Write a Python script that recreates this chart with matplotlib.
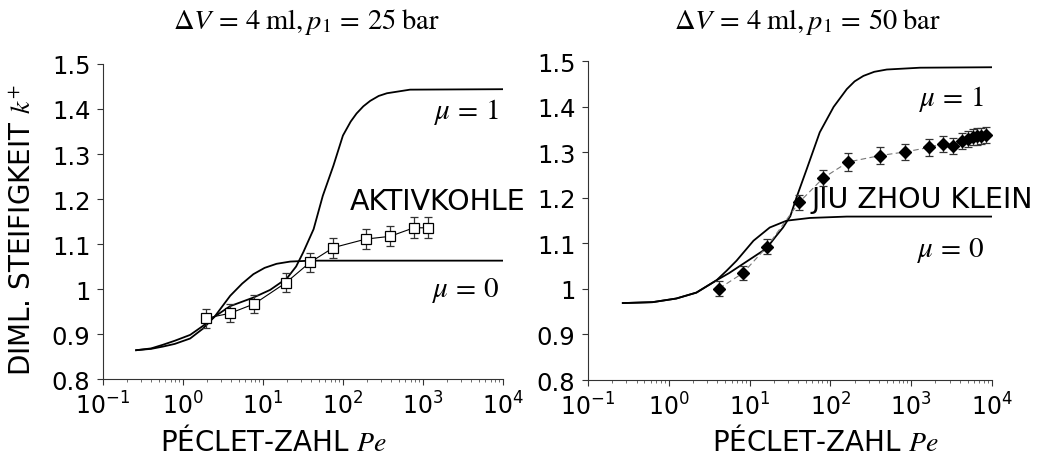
import matplotlib
matplotlib.use("Agg")
import matplotlib.pyplot as plt
from matplotlib.ticker import FixedLocator, LogLocator, NullFormatter

plt.rcParams['font.family'] = ['DejaVu Sans']
plt.rcParams['mathtext.fontset'] = 'dejavusans'

# Linkes Diagramm: 25 bar, Aktivkohle
pe_l_mu0 = [0.26, 0.40, 0.56, 0.79, 1.23, 1.78, 2.5, 3.9, 5.5, 7.6, 10.5, 14.8, 22, 40, 10000]
k_l_mu0 = [0.864, 0.867, 0.872, 0.878, 0.890, 0.912, 0.939, 0.985, 1.012, 1.033, 1.047, 1.056, 1.061, 1.063, 1.063]
pe_l_mu1 = [0.26, 0.40, 0.56, 0.79, 1.23, 1.78, 2.5, 3.9, 7.6, 12.3, 20, 26, 32, 43, 56, 76, 100, 125, 148, 180,
            219, 280, 355, 690, 10000]
k_l_mu1 = [0.864, 0.868, 0.876, 0.885, 0.898, 0.918, 0.939, 0.962, 0.981, 0.998, 1.024, 1.050, 1.082, 1.133,
           1.207, 1.274, 1.341, 1.372, 1.390, 1.406, 1.418, 1.429, 1.435, 1.443, 1.444]
pe_ak = [1.94, 3.87, 7.8, 19.4, 38.7, 76, 194, 387, 772, 1167]
k_ak = [0.935, 0.946, 0.967, 1.014, 1.059, 1.092, 1.111, 1.117, 1.136, 1.136]
err_ak = [0.021, 0.020, 0.020, 0.021, 0.021, 0.022, 0.022, 0.022, 0.023, 0.023]

# Rechtes Diagramm: 50 bar, Jiu Zhou klein
pe_r_mu0 = [0.27, 0.63, 1.24, 2.2, 3.9, 5.2, 6.9, 11.2, 17.8, 28.8, 56, 160, 10000]
k_r_mu0 = [0.969, 0.971, 0.979, 0.992, 1.019, 1.040, 1.062, 1.106, 1.135, 1.150, 1.156, 1.159, 1.159]
pe_r_mu1 = [0.27, 0.63, 1.24, 2.2, 3.9, 5.6, 8.3, 16.2, 21.5, 26, 32, 38, 51, 74, 110, 160, 200, 257, 350, 500,
            1290, 10000]
k_r_mu1 = [0.969, 0.971, 0.979, 0.992, 1.019, 1.035, 1.055, 1.089, 1.117, 1.135, 1.160, 1.200, 1.263, 1.344,
           1.400, 1.439, 1.456, 1.468, 1.477, 1.482, 1.486, 1.487]
pe_jz = [4.2, 8.3, 16.5, 41, 82, 167, 412, 841, 1683, 2506, 3335, 4235, 5070, 5770, 6500, 7350, 8470]
k_jz = [1.001, 1.035, 1.093, 1.190, 1.244, 1.279, 1.293, 1.301, 1.311, 1.319, 1.314, 1.325, 1.330, 1.334,
        1.335, 1.336, 1.338]
err_jz = [0.016, 0.016, 0.017, 0.017, 0.018, 0.019, 0.018, 0.018, 0.018, 0.018, 0.018, 0.018, 0.018, 0.018,
          0.018, 0.018, 0.018]

xticks = [0.1, 1, 10, 100, 1000, 10000]
xticklabels = ['$10^{-1}$', '$10^{0}$', '$10^{1}$', '$10^{2}$', '$10^{3}$', '$10^{4}$']
yticks = [0.8, 0.9, 1.0, 1.1, 1.2, 1.3, 1.4, 1.5]
yticklabels = ['0.8', '0.9', '1', '1.1', '1.2', '1.3', '1.4', '1.5']

fig = plt.figure(figsize=(10.41, 4.6), dpi=100)
ax1 = fig.add_axes([0.0989, 0.1739, 0.3842, 0.6848])
ax2 = fig.add_axes([0.5648, 0.1717, 0.3880, 0.6928])


def achsen(ax):
    ax.set_xscale('log')
    ax.set_xlim(0.1, 10000)
    ax.set_ylim(0.8, 1.5)
    ax.xaxis.set_major_locator(FixedLocator(xticks))
    ax.set_xticklabels(xticklabels)
    ax.xaxis.set_minor_locator(LogLocator(base=10, subs=range(2, 10), numticks=20))
    ax.xaxis.set_minor_formatter(NullFormatter())
    ax.set_yticks(yticks)
    ax.set_yticklabels(yticklabels)
    for s in ['top', 'right']:
        ax.spines[s].set_visible(False)
    for s in ['left', 'bottom']:
        ax.spines[s].set_linewidth(0.8)
        ax.spines[s].set_color('#333333')
    ax.tick_params(axis='y', which='major', labelsize=17.5, length=4, width=0.8, color='#333333', pad=5)
    ax.tick_params(axis='x', which='major', labelsize=17, length=4, width=0.8, color='#333333', pad=5)
    ax.tick_params(axis='x', which='minor', length=2, width=0.6, color='#555555')


achsen(ax1)
achsen(ax2)

# links
ax1.plot(pe_l_mu0, k_l_mu0, color='black', lw=1.3)
ax1.plot(pe_l_mu1, k_l_mu1, color='black', lw=1.3)
ax1.plot(pe_ak, k_ak, color='black', lw=0.8, zorder=3)
ax1.errorbar(pe_ak, k_ak, yerr=err_ak, fmt='none', ecolor='#333333', elinewidth=0.9, capsize=3, capthick=0.9, zorder=3)
ax1.plot(pe_ak, k_ak, 's', ms=7, mfc='white', mec='black', mew=0.9, ls='none', zorder=4)

# rechts
ax2.plot(pe_r_mu0, k_r_mu0, color='black', lw=1.3)
ax2.plot(pe_r_mu1, k_r_mu1, color='black', lw=1.3)
ax2.plot(pe_jz, k_jz, color='#777777', lw=0.8, ls=(0, (5, 3)), zorder=3)
ax2.errorbar(pe_jz, k_jz, yerr=err_jz, fmt='none', ecolor='#333333', elinewidth=0.9, capsize=3, capthick=0.9, zorder=3)
ax2.plot(pe_jz, k_jz, 'D', ms=6.5, mfc='black', mec='black', ls='none', zorder=4)

# Beschriftungen
mu_kw = dict(fontsize=21, ha='right', va='center', math_fontfamily='stix')
ax1.text(9000, 1.396, r'$\mu\,=\,1$', **mu_kw)
ax1.text(9000, 1.0, r'$\mu\,=\,0$', **mu_kw)
ax2.text(8000, 1.42, r'$\mu\,=\,1$', **mu_kw)
ax2.text(8000, 1.087, r'$\mu\,=\,0$', **mu_kw)

fig.text(350 / 1041, 1 - 202 / 460, 'AKTIVKOHLE', fontsize=20.5, ha='left', va='center')
fig.text(812 / 1041, 1 - 200 / 460, 'JIU ZHOU KLEIN', fontsize=20.5, ha='left', va='center')

titel_kw = dict(fontsize=20.5, ha='center', va='center', math_fontfamily='stix')
fig.text(306 / 1041, 1 - 22 / 460, r'$\Delta V\,=\,4\;\mathrm{ml}, p_1\,=\,25\;\mathrm{bar}$', **titel_kw)
fig.text(807 / 1041, 1 - 22 / 460, r'$\Delta V\,=\,4\;\mathrm{ml}, p_1\,=\,50\;\mathrm{bar}$', **titel_kw)

fig.text(274 / 1041, 1 - 442 / 460, r'PÉCLET-ZAHL $Pe$', fontsize=20, ha='center', va='center',
         math_fontfamily='stix')
fig.text(826 / 1041, 1 - 442 / 460, r'PÉCLET-ZAHL $Pe$', fontsize=20, ha='center', va='center',
         math_fontfamily='stix')
fig.text(22 / 1041, 1 - 230 / 460, r'DIML. STEIFIGKEIT $k^{+}$', fontsize=20, ha='center', va='center',
         rotation=90, math_fontfamily='stix')

fig.savefig('out.png', dpi=100)
